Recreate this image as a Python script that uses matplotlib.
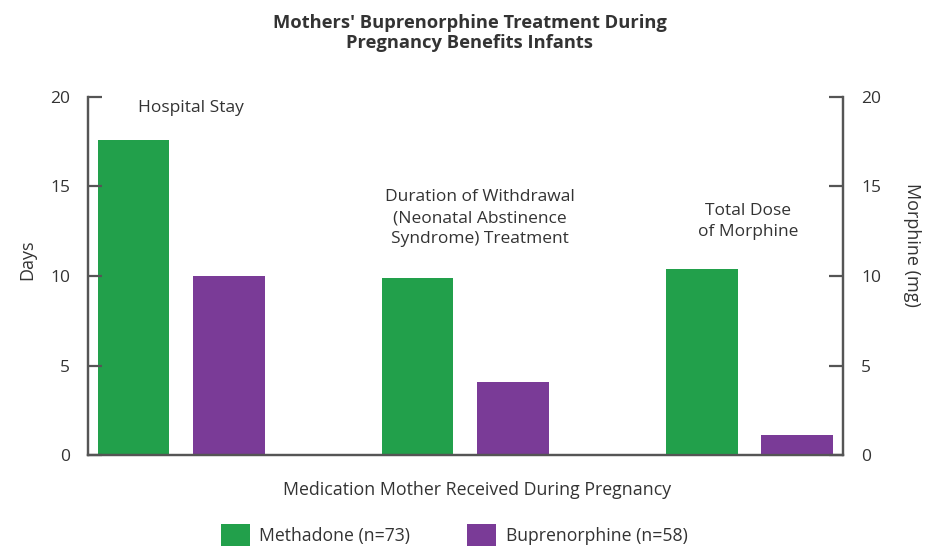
import matplotlib
matplotlib.use("Agg")
import matplotlib.pyplot as plt
from matplotlib.patches import Patch
import numpy as np

plt.rcParams['font.family'] = ['Open Sans', 'DejaVu Sans']

groups = ["Hospital Stay",
          "Duration of Withdrawal\n(Neonatal Abstinence\nSyndrome) Treatment",
          "Total Dose\nof Morphine"]
methadone = [17.6, 9.9, 10.4]
buprenorphine = [10.0, 4.1, 1.1]
series_labels = ["Methadone (n=73)", "Buprenorphine (n=58)"]
yticks = [0, 5, 10, 15, 20]

green = "#22a04b"
purple = "#7a3b97"
txt = "#333333"
spine_c = "#555555"

W, H = 932, 547
fig = plt.figure(figsize=(W/100, H/100), dpi=100)
ax = fig.add_axes([88/W, 1-455/H, (843-88)/W, (455-97)/H])
ax2 = ax.twinx()

x = np.arange(len(groups))
off = 0.1675
w = 0.253
# days on left axis (first two groups), morphine on right axis (third group)
ax.bar(x[:2] - off, methadone[:2], w, color=green)
ax.bar(x[:2] + off, buprenorphine[:2], w, color=purple)
ax2.bar(x[2:] - off, methadone[2:], w, color=green)
ax2.bar(x[2:] + off, buprenorphine[2:], w, color=purple)

for a in (ax, ax2):
    a.set_xlim(-0.3275, 2.33)
    a.set_ylim(0, 20)
    a.set_yticks(yticks)
    a.spines['top'].set_visible(False)
    for s in ('left', 'right', 'bottom'):
        a.spines[s].set_color(spine_c)
        a.spines[s].set_linewidth(1.6)
    a.tick_params(axis='y', direction='in', length=10, width=1.6, color=spine_c,
                  labelsize=12.5, labelcolor=txt, pad=13)
    a.set_xticks([])

fig.text(27/W, 1-260/H, "Days", rotation=90, ha='center', va='center',
         fontsize=13, color=txt)
fig.text(912/W, 1-245/H, "Morphine (mg)", rotation=-90, ha='center', va='center',
         fontsize=13, color=txt)

label_pos = [(0.035, 19.4), (1.053, 13.24), (1.996, 13.04)]
for g, (gx, gy) in zip(groups, label_pos):
    ax.text(gx, gy, g, ha='center', va='center', fontsize=12.5, color=txt,
            linespacing=1.4)

fig.text(477/W, 1-490/H, "Medication Mother Received During Pregnancy",
         ha='center', va='center', fontsize=12.8, color=txt)

fig.text(470/W, 1-33/H, "Mothers' Buprenorphine Treatment During\nPregnancy Benefits Infants",
         ha='center', va='center', fontsize=13.2, fontweight='bold', color=txt,
         linespacing=1.2)

handles = [Patch(facecolor=green), Patch(facecolor=purple)]
fig.legend(handles, series_labels, loc='center', bbox_to_anchor=(454/W, 1-535/H),
           ncol=2, frameon=False, fontsize=12.7, labelcolor=txt, handlelength=1.65,
           handleheight=1.5, columnspacing=3.2, handletextpad=0.55)

fig.savefig("out.png", dpi=100)
